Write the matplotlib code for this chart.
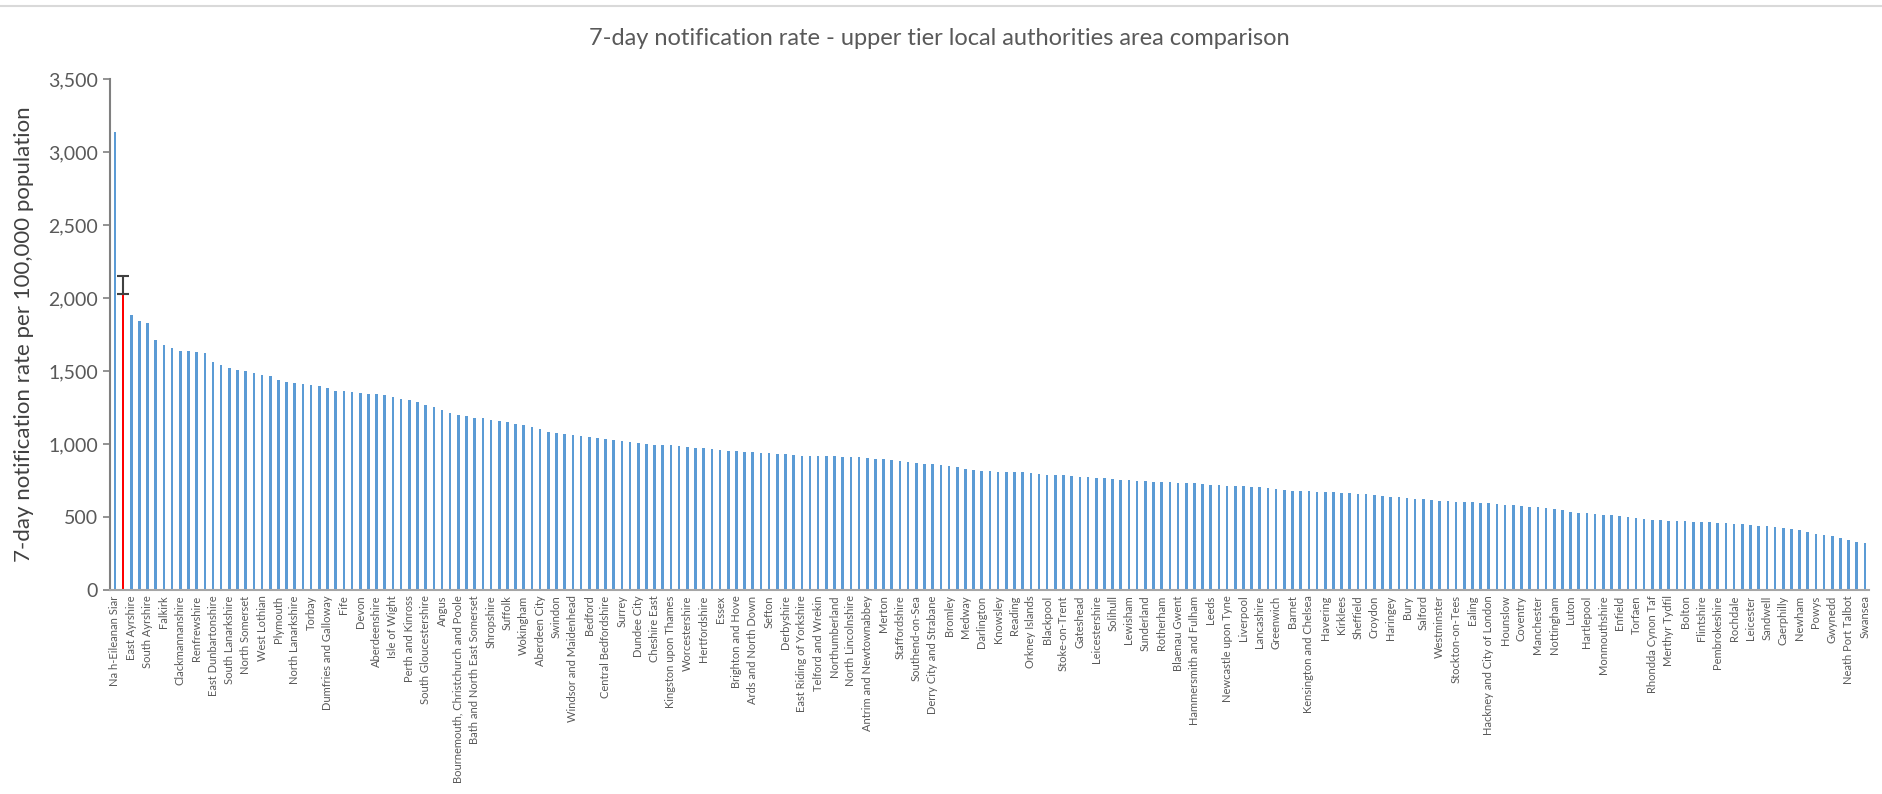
import matplotlib.pyplot as plt
from matplotlib.lines import Line2D
from matplotlib.ticker import FuncFormatter

# --------------------------------
# DATA
# --------------------------------
labels = [
    "Na h-Eileanan Siar", "East Ayrshire", "South Ayrshire", "Falkirk", "Clackmannanshire",
    "Renfrewshire", "East Dunbartonshire", "South Lanarkshire", "North Somerset", "West Lothian",
    "Plymouth", "North Lanarkshire", "Torbay", "Dumfries and Galloway", "Fife", "Devon",
    "Aberdeenshire", "Isle of Wight", "Perth and Kinross", "South Gloucestershire", "Angus",
    "Bournemouth, Christchurch and Poole", "Bath and North East Somerset", "Shropshire", "Suffolk",
    "Wokingham", "Aberdeen City", "Swindon", "Windsor and Maidenhead", "Bedford",
    "Central Bedfordshire", "Surrey", "Dundee City", "Cheshire East", "Kingston upon Thames",
    "Worcestershire", "Hertfordshire", "Essex", "Brighton and Hove", "Ards and North Down",
    "Sefton", "Derbyshire", "East Riding of Yorkshire", "Telford and Wrekin", "Northumberland",
    "North Lincolnshire", "Antrim and Newtownabbey", "Merton", "Staffordshire", "Southend-on-Sea",
    "Derry City and Strabane", "Bromley", "Medway", "Darlington", "Knowsley", "Reading",
    "Orkney Islands", "Blackpool", "Stoke-on-Trent", "Gateshead", "Leicestershire", "Solihull",
    "Lewisham", "Sunderland", "Rotherham", "Blaenau Gwent", "Hammersmith and Fulham", "Leeds",
    "Newcastle upon Tyne", "Liverpool", "Lancashire", "Greenwich", "Barnet",
    "Kensington and Chelsea", "Havering", "Kirklees", "Sheffield", "Croydon", "Haringey", "Bury",
    "Salford", "Westminster", "Stockton-on-Tees", "Ealing", "Hackney and City of London",
    "Hounslow", "Coventry", "Manchester", "Nottingham", "Luton", "Hartlepool", "Monmouthshire",
    "Enfield", "Torfaen", "Rhondda Cynon Taf", "Merthyr Tydfil", "Bolton", "Flintshire",
    "Pembrokeshire", "Rochdale", "Leicester", "Sandwell", "Caerphilly", "Newham", "Powys",
    "Gwynedd", "Neath Port Talbot", "Swansea",
]

# one value per authority (only every other one is labelled on the axis)
rates = [
    3140, 2025, 1880, 1845, 1830, 1715, 1680, 1655, 1640, 1635,
    1630, 1625, 1560, 1540, 1520, 1510, 1500, 1485, 1475, 1465,
    1440, 1425, 1415, 1410, 1405, 1400, 1380, 1365, 1360, 1355,
    1350, 1345, 1340, 1335, 1320, 1310, 1300, 1285, 1270, 1250,
    1235, 1215, 1200, 1190, 1180, 1175, 1165, 1155, 1150, 1140,
    1130, 1115, 1100, 1085, 1075, 1065, 1060, 1055, 1050, 1040,
    1035, 1030, 1020, 1010, 1005, 1000, 995, 992, 990, 985,
    980, 975, 970, 965, 960, 955, 950, 948, 945, 940,
    935, 932, 930, 925, 920, 918, 915, 915, 915, 912,
    910, 908, 905, 900, 895, 890, 885, 878, 870, 865,
    860, 855, 850, 840, 830, 820, 815, 812, 810, 809,
    808, 805, 800, 795, 790, 788, 785, 780, 775, 772,
    770, 765, 760, 755, 750, 748, 745, 742, 740, 738,
    735, 732, 730, 725, 720, 718, 715, 713, 712, 708,
    705, 698, 690, 685, 680, 678, 675, 672, 670, 668,
    665, 662, 660, 655, 650, 645, 640, 635, 630, 625,
    620, 615, 610, 608, 605, 602, 600, 598, 595, 590,
    585, 580, 575, 570, 565, 560, 555, 545, 535, 530,
    525, 520, 515, 510, 505, 498, 490, 485, 480, 478,
    475, 472, 470, 468, 465, 462, 460, 458, 455, 450,
    445, 440, 435, 430, 425, 420, 410, 395, 380, 375,
    370, 355, 340, 330, 320,
]

highlight_idx = 1          # the area being compared (red bar)
highlight_upper = 2150     # upper confidence limit

# --------------------------------
# PLOT
# --------------------------------
plt.rcParams['font.family'] = ['Lato', 'DejaVu Sans']
text_col = "#595959"

fig = plt.figure(figsize=(18.83, 7.94), dpi=100)
ax = fig.add_axes([0.0584, 0.257, 0.9342, 0.6435])

x = list(range(len(rates)))
colors = ["#5B9BD5"] * len(rates)
colors[highlight_idx] = "#FF0000"
ax.bar(x, rates, width=0.32, color=colors)

ax.errorbar(highlight_idx, rates[highlight_idx],
            yerr=[[0], [highlight_upper - rates[highlight_idx]]],
            fmt="none", ecolor="#404040", elinewidth=1.5, capsize=4.5, capthick=1.5)

ax.set_xlim(-0.6, len(rates) - 0.5)
ax.set_ylim(0, 3500)
ax.set_yticks(range(0, 3501, 500))
ax.yaxis.set_major_formatter(FuncFormatter(lambda v, p: f"{int(v):,}"))

ax.set_xticks(x[::2])
ax.set_xticklabels(labels, rotation=90, fontsize=8, color=text_col)
ax.tick_params(axis="x", length=0, pad=4)
ax.tick_params(axis="y", labelsize=14, labelcolor=text_col, color="#808080",
               length=5, width=1.2)

for s in ["top", "right"]:
    ax.spines[s].set_visible(False)
ax.spines["left"].set_color("#808080")
ax.spines["left"].set_linewidth(1.5)
ax.spines["bottom"].set_color("#a6a6a6")
ax.spines["bottom"].set_linewidth(1.5)

ax.set_ylabel("7-day notification rate per 100,000 population", fontsize=16,
              color="#404040", labelpad=10)
fig.text(0.499, 0.952, "7-day notification rate - upper tier local authorities area comparison",
         ha="center", va="center", fontsize=17, color=text_col)

# chart frame line along the top
fig.add_artist(Line2D([0, 1], [0.9925, 0.9925], color="#d9d9d9", linewidth=1.5,
                      transform=fig.transFigure))

plt.savefig("out.png", dpi=100)
plt.close()
